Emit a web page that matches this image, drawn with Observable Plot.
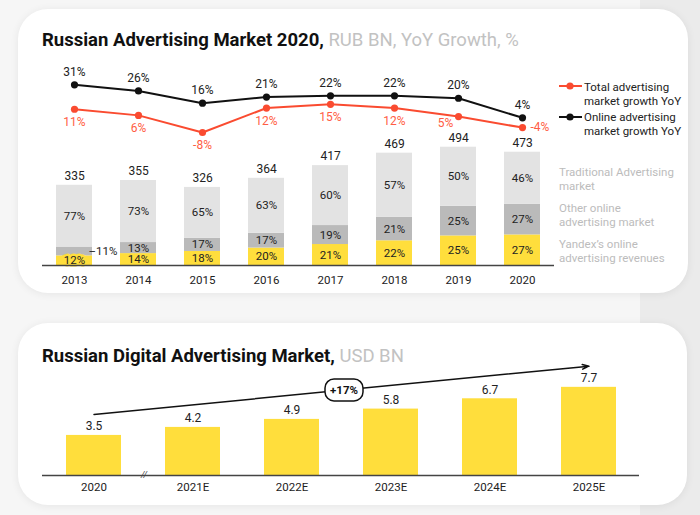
<!DOCTYPE html>
<html><head><meta charset="utf-8">
<script src="https://cdn.jsdelivr.net/npm/d3@7"></script>
<script src="https://cdn.jsdelivr.net/npm/@observablehq/plot@0.6"></script>
<style>
body{margin:0;width:700px;height:515px;background:#f6f6f6;position:relative;overflow:hidden;font-family:Roboto,sans-serif;}
.strip{position:absolute;left:640px;top:0;width:60px;height:515px;background:#ebebeb;}
.card{position:absolute;background:#fff;border-radius:30px;box-shadow:0 1px 8px rgba(0,0,0,0.07);}
.title{position:absolute;left:42px;font-size:18.5px;line-height:19px;font-weight:700;color:#111;white-space:nowrap;}
.title span{font-weight:400;color:#c2c2c2;}
.abs{position:absolute;left:0;}
.leg{position:absolute;left:584px;font-size:11.5px;line-height:14px;color:#222;white-space:nowrap;}
.gleg{position:absolute;left:559px;font-size:11.5px;line-height:14px;color:#bcbcbc;white-space:nowrap;}
.sw{position:absolute;left:558px;}
</style></head><body>
<div class="strip"></div>
<div class="card" style="left:18px;top:9px;width:670px;height:284px"></div>
<div class="card" style="left:18px;top:323px;width:669px;height:182px"></div>
<div class="title" style="top:31px">Russian Advertising Market 2020, <span>RUB BN, YoY Growth, %</span></div>
<div class="title" style="top:347px">Russian Digital Advertising Market, <span>USD BN</span></div>

<svg class="sw" style="top:80px" width="25" height="12"><line x1="1" x2="24" y1="6" y2="6" stroke="#fa4b30" stroke-width="2"/><circle cx="12" cy="6" r="3.6" fill="#fa4b30"/></svg>
<svg class="sw" style="top:111px" width="25" height="12"><line x1="1" x2="24" y1="6" y2="6" stroke="#111" stroke-width="2"/><circle cx="12" cy="6" r="3.6" fill="#111"/></svg>
<div class="leg" style="top:80px">Total advertising<br>market growth YoY</div>
<div class="leg" style="top:110px">Online advertising<br>market growth YoY</div>
<div class="gleg" style="top:165px">Traditional Advertising<br>market</div>
<div class="gleg" style="top:201px">Other online<br>advertising market</div>
<div class="gleg" style="top:237px">Yandex’s online<br>advertising revenues</div>

<div id="bars" class="abs" style="top:60px"></div>
<div id="lines" class="abs" style="top:60px"></div>
<div id="digital" class="abs" style="top:360px"></div>

<script>
// ---- data: Russian advertising market ----
const years = ["2013","2014","2015","2016","2017","2018","2019","2020"];
const totals = [335, 355, 326, 364, 417, 469, 494, 473];
const yandexShare = [12, 14, 18, 20, 21, 22, 25, 27];
const otherShare = [11, 13, 17, 17, 19, 21, 25, 27];
const tradShare = [77, 73, 65, 63, 60, 57, 50, 46];
const totalGrowth = [11, 6, -8, 12, 15, 12, 5, -4];
const onlineGrowth = [31, 26, 16, 21, 22, 22, 20, 4];
const segNames = ["Yandex", "Other online", "Traditional"];
const segColors = ["#ffde3c", "#bababa", "#e3e3e3"];

// ---- data: Russian digital advertising market ----
const digYears = ["2020","2021E","2022E","2023E","2024E","2025E"];
const digValues = [3.5, 4.2, 4.9, 5.8, 6.7, 7.7];
const trendLabel = ["+17%"];
const trendFrom = [5.33];
const trendTo = [9.55];
const trendMid = [7.47];

const font = "Roboto, sans-serif";
const yellow = "#ffde3c", red = "#fa4b30", redText = "#ff5d44", ink = "#222";

const rows = [];
years.forEach((year, i) => {
  [yandexShare, otherShare, tradShare].forEach((arr, k) => {
    rows.push({year, seg: segNames[k], share: arr[i], value: totals[i] * arr[i] / 100});
  });
});
const isOut = d => d.year === "2013" && d.seg === "Other online";
const isBoxed = d => d.year === "2013" && d.seg === "Yandex";
const totalRows = years.map((year, i) => ({year, total: totals[i]}));

const bars = Plot.plot({
  width: 700, height: 230, marginLeft: 42, marginRight: 146, marginTop: 0, marginBottom: 25,
  x: {type: "band", domain: years, paddingInner: 0.44, paddingOuter: 0.22, tickSize: 0, tickPadding: 10, label: null},
  y: {domain: [0, 856], axis: null},
  color: {domain: segNames, range: segColors},
  style: {background: "transparent", fontFamily: font, fontSize: "11.5px", color: ink, overflow: "visible"},
  marks: [
    Plot.barY(rows, {x: "year", y: "value", fill: "seg"}),
    Plot.text(rows, Plot.stackY({x: "year", y: "value", text: d => isBoxed(d) ? d.share + "%" : null, fill: ink, stroke: yellow, strokeWidth: 5, paintOrder: "stroke", fontSize: 11.5})),
    Plot.text(rows, Plot.stackY({x: "year", y: "value", text: d => (isOut(d) || isBoxed(d)) ? null : d.share + "%", fill: ink, fontSize: 11.5})),
    Plot.text(rows, Plot.stackY({x: "year", y: "value", text: d => isOut(d) ? "\u2013" + d.share + "%" : null, fill: ink, fontSize: 11.5, dx: 14, textAnchor: "start"})),
    Plot.text(totalRows, {x: "year", y: "total", text: d => String(d.total), dy: -9, fill: ink, fontSize: 12}),
    Plot.ruleY([0], {stroke: "#444", strokeWidth: 1.5})
  ]
});
document.getElementById("bars").append(bars);

const onlineRows = years.map((year, i) => ({year, v: onlineGrowth[i]}));
const totRows = years.map((year, i) => ({year, v: totalGrowth[i]}));
const pct = d => d.v + "%";

const lines = Plot.plot({
  width: 700, height: 230, marginLeft: 42, marginRight: 146, marginTop: 0, marginBottom: 25,
  x: {type: "band", domain: years, paddingInner: 0.44, paddingOuter: 0.22, axis: null},
  y: {domain: [-8, 31], range: [72, 24.3], axis: null},
  style: {background: "transparent", fontFamily: font, fontSize: "12px", color: ink, overflow: "visible"},
  marks: [
    Plot.line(totRows, {x: "year", y: "v", stroke: red, strokeWidth: 2}),
    Plot.line(onlineRows, {x: "year", y: "v", stroke: "#111", strokeWidth: 2}),
    Plot.dot(totRows, {x: "year", y: "v", r: 3.6, fill: red}),
    Plot.dot(onlineRows, {x: "year", y: "v", r: 3.6, fill: "#111"}),
    Plot.text(onlineRows, {x: "year", y: "v", text: pct, dy: -13, fill: ink}),
    Plot.text(totRows.filter(d => d.year !== "2019" && d.year !== "2020"), {x: "year", y: "v", text: pct, dy: 13, fill: redText}),
    Plot.text(totRows.filter(d => d.year === "2019"), {x: "year", y: "v", text: pct, dx: -13, dy: 7, fill: redText}),
    Plot.text(totRows.filter(d => d.year === "2020"), {x: "year", y: "v", text: pct, dx: 8, textAnchor: "start", fill: redText})
  ]
});
document.getElementById("lines").append(lines);

const digRows = digYears.map((year, i) => ({year, value: digValues[i]}));
const trend = trendLabel.map((label, i) => ({label, x1: digYears[0], x2: digYears[digYears.length - 1], y1: trendFrom[i], y2: trendTo[i], x: digYears[2], y: trendMid[i]}));

const roundRect = {
  draw(ctx) {
    const w = 38, h = 22, r = 9, x0 = -w / 2, y0 = -h / 2;
    ctx.moveTo(x0 + r, y0);
    ctx.arcTo(x0 + w, y0, x0 + w, y0 + h, r);
    ctx.arcTo(x0 + w, y0 + h, x0, y0 + h, r);
    ctx.arcTo(x0, y0 + h, x0, y0, r);
    ctx.arcTo(x0, y0, x0 + w, y0, r);
    ctx.closePath();
  }
};

const digital = Plot.plot({
  width: 700, height: 140, marginLeft: 42, marginRight: 61, marginTop: 0, marginBottom: 25,
  x: {type: "band", domain: digYears, paddingInner: 0.447, paddingOuter: 0.2235, tickSize: 0, tickPadding: 7, label: null},
  y: {domain: [0, 10], range: [115, 0.5], axis: null},
  style: {background: "transparent", fontFamily: font, fontSize: "11.5px", color: ink, overflow: "visible"},
  marks: [
    Plot.barY(digRows, {x: "year", y: "value", fill: yellow}),
    Plot.text(digRows, {x: "year", y: "value", text: d => d.value.toFixed(1), dy: -9, fill: ink, fontSize: 12}),
    Plot.ruleY([0], {stroke: "#444", strokeWidth: 1.5}),
    Plot.text([digYears[0]], {x: d => d, y: 0, text: ["//"], dx: 50, fontSize: 9, fill: "#444", fontStyle: "italic"}),
    Plot.arrow(trend, {x1: "x1", y1: "y1", x2: "x2", y2: "y2", stroke: "#111", strokeWidth: 1.5, headLength: 7, headAngle: 40}),
    Plot.dot(trend, {x: "x", y: "y", dx: 52, symbol: roundRect, r: 5, fill: "white", stroke: "#111", strokeWidth: 1.5}),
    Plot.text(trend, {x: "x", y: "y", dx: 52, text: "label", fontWeight: "bold", fontSize: 11.5, fill: "#111"})
  ]
});
document.getElementById("digital").append(digital);
</script>
</body></html>
